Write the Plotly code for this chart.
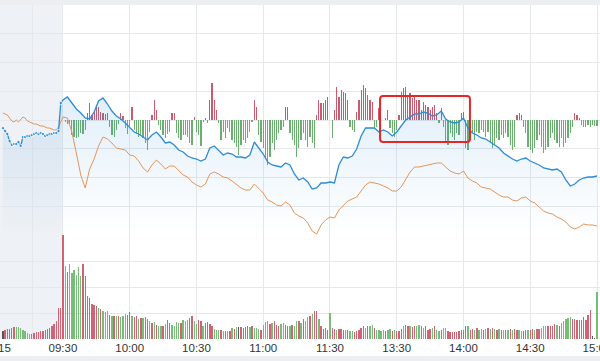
import plotly.graph_objects as go

# ---------------- data ----------------
PREV_CLOSE = 28.75          # stock previous close
IDX_PREV = 2875.0           # benchmark previous close
FLOW_SCALE = 0.01           # flow indicator -> price units

tick_vals = [-13.5, 0, 30, 60, 90, 120, 150, 180, 210, 240]
tick_text = ["", "09:30", "10:00", "10:30", "11:00", "11:30", "13:30", "14:00", "14:30", "15:00"]

pre_minutes = list(range(-27, 0))
line_minutes = list(range(0, 241, 2))
bar_minutes = list(range(0, 241))

blue_pre = [28.67, 28.64, 28.61, 28.54, 28.50, 28.51, 28.51, 28.53, 28.49, 28.58,
            28.58, 28.59, 28.59, 28.60, 28.61, 28.62, 28.61, 28.62, 28.61, 28.59,
            28.60, 28.61, 28.61, 28.62, 28.62, 28.64, 28.92]
blue_reg = [28.95, 28.98, 28.92, 28.86, 28.82, 28.77, 28.76, 28.83, 28.94, 28.97,
            28.91, 28.84, 28.79, 28.76, 28.72, 28.67, 28.63, 28.61, 28.58, 28.55,
            28.60, 28.63, 28.58, 28.52, 28.53, 28.50, 28.45, 28.43, 28.39, 28.37,
            28.36, 28.34, 28.36, 28.47, 28.49, 28.45, 28.40, 28.42, 28.41, 28.38,
            28.38, 28.37, 28.40, 28.53, 28.47, 28.41, 28.33, 28.30, 28.29, 28.28,
            28.32, 28.30, 28.21, 28.15, 28.17, 28.13, 28.06, 28.07, 28.12, 28.12,
            28.13, 28.12, 28.30, 28.38, 28.37, 28.39, 28.46, 28.59, 28.67, 28.67,
            28.67, 28.63, 28.65, 28.63, 28.59, 28.63, 28.69, 28.75, 28.78, 28.81,
            28.81, 28.83, 28.82, 28.79, 28.80, 28.84, 28.76, 28.73, 28.72, 28.73,
            28.77, 28.67, 28.62, 28.60, 28.57, 28.56, 28.53, 28.50, 28.47, 28.42,
            28.39, 28.36, 28.34, 28.36, 28.37, 28.34, 28.32, 28.30, 28.27, 28.26,
            28.25, 28.26, 28.23, 28.15, 28.09, 28.11, 28.15, 28.17, 28.18, 28.18,
            28.19]

idx_pre = [2882, 2881, 2880, 2877, 2874, 2873, 2875, 2873, 2876, 2878,
           2877, 2874, 2873, 2872, 2871, 2871, 2870, 2869, 2869, 2868,
           2867, 2867, 2866, 2865, 2865, 2868, 2873]
idx_reg = [2878, 2877, 2863, 2842, 2820, 2807, 2826, 2836, 2849, 2858,
           2856, 2852, 2847, 2846, 2845, 2840, 2839, 2834, 2827, 2823,
           2830, 2835, 2831, 2826, 2829, 2829, 2825, 2820, 2818, 2813,
           2810, 2808, 2811, 2821, 2823, 2821, 2818, 2817, 2814, 2810,
           2807, 2805, 2805, 2811, 2807, 2802, 2795, 2793, 2790, 2789,
           2793, 2790, 2782, 2779, 2777, 2772, 2764, 2761, 2770, 2775,
           2778, 2777, 2785, 2790, 2794, 2796, 2798, 2804, 2810, 2813,
           2812, 2811, 2809, 2807, 2804, 2804, 2808, 2816, 2823, 2828,
           2828, 2829, 2830, 2831, 2832, 2832, 2828, 2824, 2822, 2821,
           2824, 2817, 2814, 2812, 2808, 2807, 2806, 2803, 2800, 2798,
           2798, 2795, 2794, 2797, 2798, 2794, 2792, 2788, 2784, 2782,
           2781, 2778, 2776, 2773, 2768, 2766, 2768, 2771, 2770, 2770,
           2769]

flow = [0, -2, -4, -5, -15, -17, -18, -17, -13, -14,
        -10, 7, 17, 5, 10, 15, 13, 8, 7, 6,
        7, -7, -15, -17, -10, -4, 7, 4, -8, -14,
        -6, 13, -10, -14, -17, -15, -18, -23, -30, -12,
        5, 20, 10, -5, -10, -15, -18, -14, -12, 7,
        7, -13, -18, -20, -15, -15, -17, -23, -25, 3,
        -12, -15, -26, -2, 2, -3, 20, 37, 20, 10,
        -3, -20, -12, -18, -8, -12, -20, -23, -27, -35,
        -25, -20, -23, -18, -12, -2, 20, 13, -15, -22,
        -28, -38, -45, -37, -23, -30, -20, -13, -10, -7,
        13, 13, -13, -20, -25, -37, -28, -20, -13, -20,
        -27, -17, -23, -28, 5, 20, 17, 17, 20, 23,
        0, -18, 10, 33, 23, 30, 28, 27, 20, -7,
        -10, -12, 8, 20, 30, 35, 32, 25, 20, 18,
        -8, -7, 12, 0, 0, 2, 10, -8, -13, -17,
        -10, 5, 28, 32, 33, 23, 27, 22, 23, 20,
        20, 10, 18, 15, 13, 10, 13, 15, 7, -3,
        12, -7, -22, -25, -13, -17, -20, -13, -15, 7,
        8, -28, -30, -20, -13, -20, -12, -13, -10, -12,
        -17, -12, -22, -28, -25, -18, -20, -15, -18, -13,
        -17, -25, -30, -27, 5, 7, 5, -7, -13, -27,
        -30, -33, -28, -20, -15, -27, -33, -30, -27, -18,
        -13, -20, -23, -27, -18, -27, -23, -18, -13, -7,
        7, 5, 2, -5, -7, -7, -5, -7, -5, -6,
        -6]

vol_pre = [8, 9, 10, 10, 11, 12, 12, 12, 11, 9, 8, 6, 5, 5, 6, 7, 7, 8, 8, 9,
           10, 11, 13, 15, 18, 31, 31]
vol_pre_dir = "n" + "rrrrr" + "ggggggg" + "rrrrrrrrrrrrrr"
vol_reg = [104, 73, 67, 75, 66, 69, 64, 72, 63, 75,
           63, 43, 41, 35, 34, 33, 31, 30, 28, 27,
           28, 24, 23, 23, 23, 23, 22, 23, 25, 24,
           27, 23, 22, 23, 20, 21, 21, 22, 20, 18,
           16, 17, 14, 13, 13, 13, 15, 19, 16, 14,
           13, 17, 16, 16, 19, 18, 19, 21, 23, 18,
           15, 19, 18, 13, 16, 17, 15, 13, 10, 9,
           9, 9, 8, 8, 8, 8, 11, 10, 12, 12,
           12, 11, 12, 13, 12, 13, 11, 11, 10, 9,
           14, 17, 18, 15, 16, 18, 14, 13, 15, 16,
           14, 13, 13, 14, 13, 18, 18, 16, 20, 18,
           22, 23, 25, 28, 28, 20, 13, 10, 11, 9,
           26, 11, 10, 9, 10, 10, 9, 9, 9, 8,
           8, 7, 8, 9, 11, 13, 11, 13, 13, 14,
           11, 9, 9, 8, 9, 8, 9, 10, 8, 9,
           8, 8, 10, 13, 14, 13, 13, 12, 13, 13,
           14, 13, 11, 13, 9, 10, 11, 13, 9, 8,
           9, 11, 11, 8, 7, 7, 7, 7, 8, 9,
           9, 13, 13, 9, 10, 9, 11, 9, 10, 9,
           10, 11, 10, 11, 10, 9, 10, 9, 9, 9,
           9, 10, 9, 10, 9, 9, 8, 8, 9, 9,
           9, 10, 9, 10, 10, 11, 13, 13, 13, 13,
           13, 15, 14, 13, 16, 18, 20, 21, 22, 20,
           20, 19, 19, 19, 22, 19, 24, 29, 3, 1,
           47]
vol_reg_dir = ("rgrggggggr" "rrrrrrgrgg" "grgrgrgggr" "rgrrgrgrrg" "rgrggrgrrg"
               "gggrgggrrg" "grrgrrrrgg" "grgrgrgrgn" "rrrrgrgggr" "gggrgrrrgg"
               "rrgrggrgrg" "grgrrgrrrr" "grrgrrrgrg" "grrrrrgrgg" "rggggrggrg"
               "rrrgrrgrrg" "grgrrrgrgg" "rggrrrrrrr" "rrgrrgrggr" "grgrgrgrgr"
               "grgrrggrrg" "rrgrrgggrr" "rrgrgggggr" "rrrrrrrrnn" "g")

# highlight box (time in minutes, price)
box_t0, box_t1 = 142.5, 182.9
box_p0, box_p1 = 28.53, 28.99

# ---------------- styling ----------------
BLUE = "rgb(45,140,215)"
ORANGE = "rgb(226,150,88)"
RED = "rgba(196,72,92,0.9)"
GREEN = "rgba(92,165,96,0.9)"
VRED = "rgba(204,92,110,0.95)"
VGREEN = "rgba(112,184,114,0.95)"
VNEU = "rgba(70,70,70,0.9)"
GRID = "#e6e8ec"
FONT = dict(family="Liberation Sans, Arial, sans-serif", size=11.5, color="#333")

price_x = pre_minutes + line_minutes
price_y = blue_pre + blue_reg
index_y = [v * PREV_CLOSE / IDX_PREV for v in idx_pre + idx_reg]

fig = go.Figure()

fig.add_trace(go.Scatter(
    x=price_x, y=price_y, mode="lines", line=dict(width=0, color="rgba(0,0,0,0)"),
    fill="tozeroy",
    fillgradient=dict(type="vertical",
                      colorscale=[[0, "rgba(45,140,215,0.0)"], [1, "rgba(45,140,215,0.14)"]],
                      start=27.60, stop=28.95),
    hoverinfo="skip", showlegend=False, xaxis="x", yaxis="y"))

fig.add_trace(go.Bar(
    x=bar_minutes, y=[f * FLOW_SCALE for f in flow], base=PREV_CLOSE,
    marker=dict(color=[RED if f > 0 else GREEN for f in flow], line=dict(width=0)),
    width=0.55, showlegend=False, xaxis="x", yaxis="y"))

fig.add_trace(go.Scatter(
    x=price_x, y=index_y, mode="lines", line=dict(width=1, color=ORANGE),
    showlegend=False, xaxis="x", yaxis="y"))

fig.add_trace(go.Scatter(
    x=price_x, y=price_y, mode="lines+markers",
    line=dict(width=1.3, color=BLUE),
    marker=dict(size=[3.5] * len(blue_pre) + [0] * len(blue_reg), color=BLUE),
    showlegend=False, xaxis="x", yaxis="y"))

cmap = {"r": VRED, "g": VGREEN, "n": VNEU}
fig.add_trace(go.Bar(
    x=pre_minutes + bar_minutes, y=vol_pre + vol_reg,
    marker=dict(color=[cmap[c] for c in vol_pre_dir + vol_reg_dir], line=dict(width=0)),
    width=0.6, showlegend=False, xaxis="x", yaxis="y2"))

rx, ry = 1.35, 0.03
box_path = (f"M {box_t0+rx},{box_p1} L {box_t1-rx},{box_p1} Q {box_t1},{box_p1} {box_t1},{box_p1-ry} "
            f"L {box_t1},{box_p0+ry} Q {box_t1},{box_p0} {box_t1-rx},{box_p0} "
            f"L {box_t0+rx},{box_p0} Q {box_t0},{box_p0} {box_t0},{box_p0+ry} "
            f"L {box_t0},{box_p1-ry} Q {box_t0},{box_p1} {box_t0+rx},{box_p1} Z")

shapes = [
    dict(type="rect", xref="x", yref="paper", x0=-30, x1=-0.5, y0=0, y1=1,
         fillcolor="#eef1f5", line=dict(width=0), layer="below"),
    dict(type="rect", xref="paper", yref="paper", x0=0, x1=1, y0=1, y1=1.02,
         fillcolor="#eceef2", line=dict(width=0), layer="below"),
    dict(type="rect", xref="paper", yref="paper", x0=0, x1=1, y0=-0.08, y1=-0.051,
         fillcolor="#eceef2", line=dict(width=0), layer="below"),
    dict(type="path", xref="x", yref="y", path=box_path,
         line=dict(color="rgb(228,40,40)", width=2)),
]

TOP_SPLIT = 104 / 334
fig.update_layout(
    width=600, height=361,
    margin=dict(l=0, r=0, t=5, b=22, autoexpand=False),
    paper_bgcolor="white", plot_bgcolor="white",
    barmode="overlay", bargap=0,
    showlegend=False,
    xaxis=dict(range=[-28.3, 241.35], tickvals=tick_vals, ticktext=tick_text,
               showgrid=True, gridcolor=GRID, gridwidth=1, zeroline=False,
               showline=False, ticks="", anchor="y2", automargin=False,
               ticklabeloverflow="allow", tickfont=FONT),
    yaxis=dict(domain=[TOP_SPLIT, 1], range=[27.60, 29.90], tick0=28.75, dtick=0.2875,
               showticklabels=False, showgrid=True, gridcolor=GRID, zeroline=False,
               automargin=False),
    yaxis2=dict(domain=[0, TOP_SPLIT], range=[0, 104], dtick=26,
                showticklabels=False, showgrid=True, gridcolor=GRID, zeroline=False,
                automargin=False),
    shapes=shapes,
    annotations=[dict(text="09:15", xref="paper", yref="paper", x=-0.006, y=-0.027,
                      xanchor="center", yanchor="middle", showarrow=False, font=FONT)],
)

fig.write_html(
    "out.html",
    config={"displayModeBar": False, "staticPlot": True},
    post_script="document.body.style.margin='0';document.body.style.padding='0';"
                "document.body.style.overflow='hidden';",
)
